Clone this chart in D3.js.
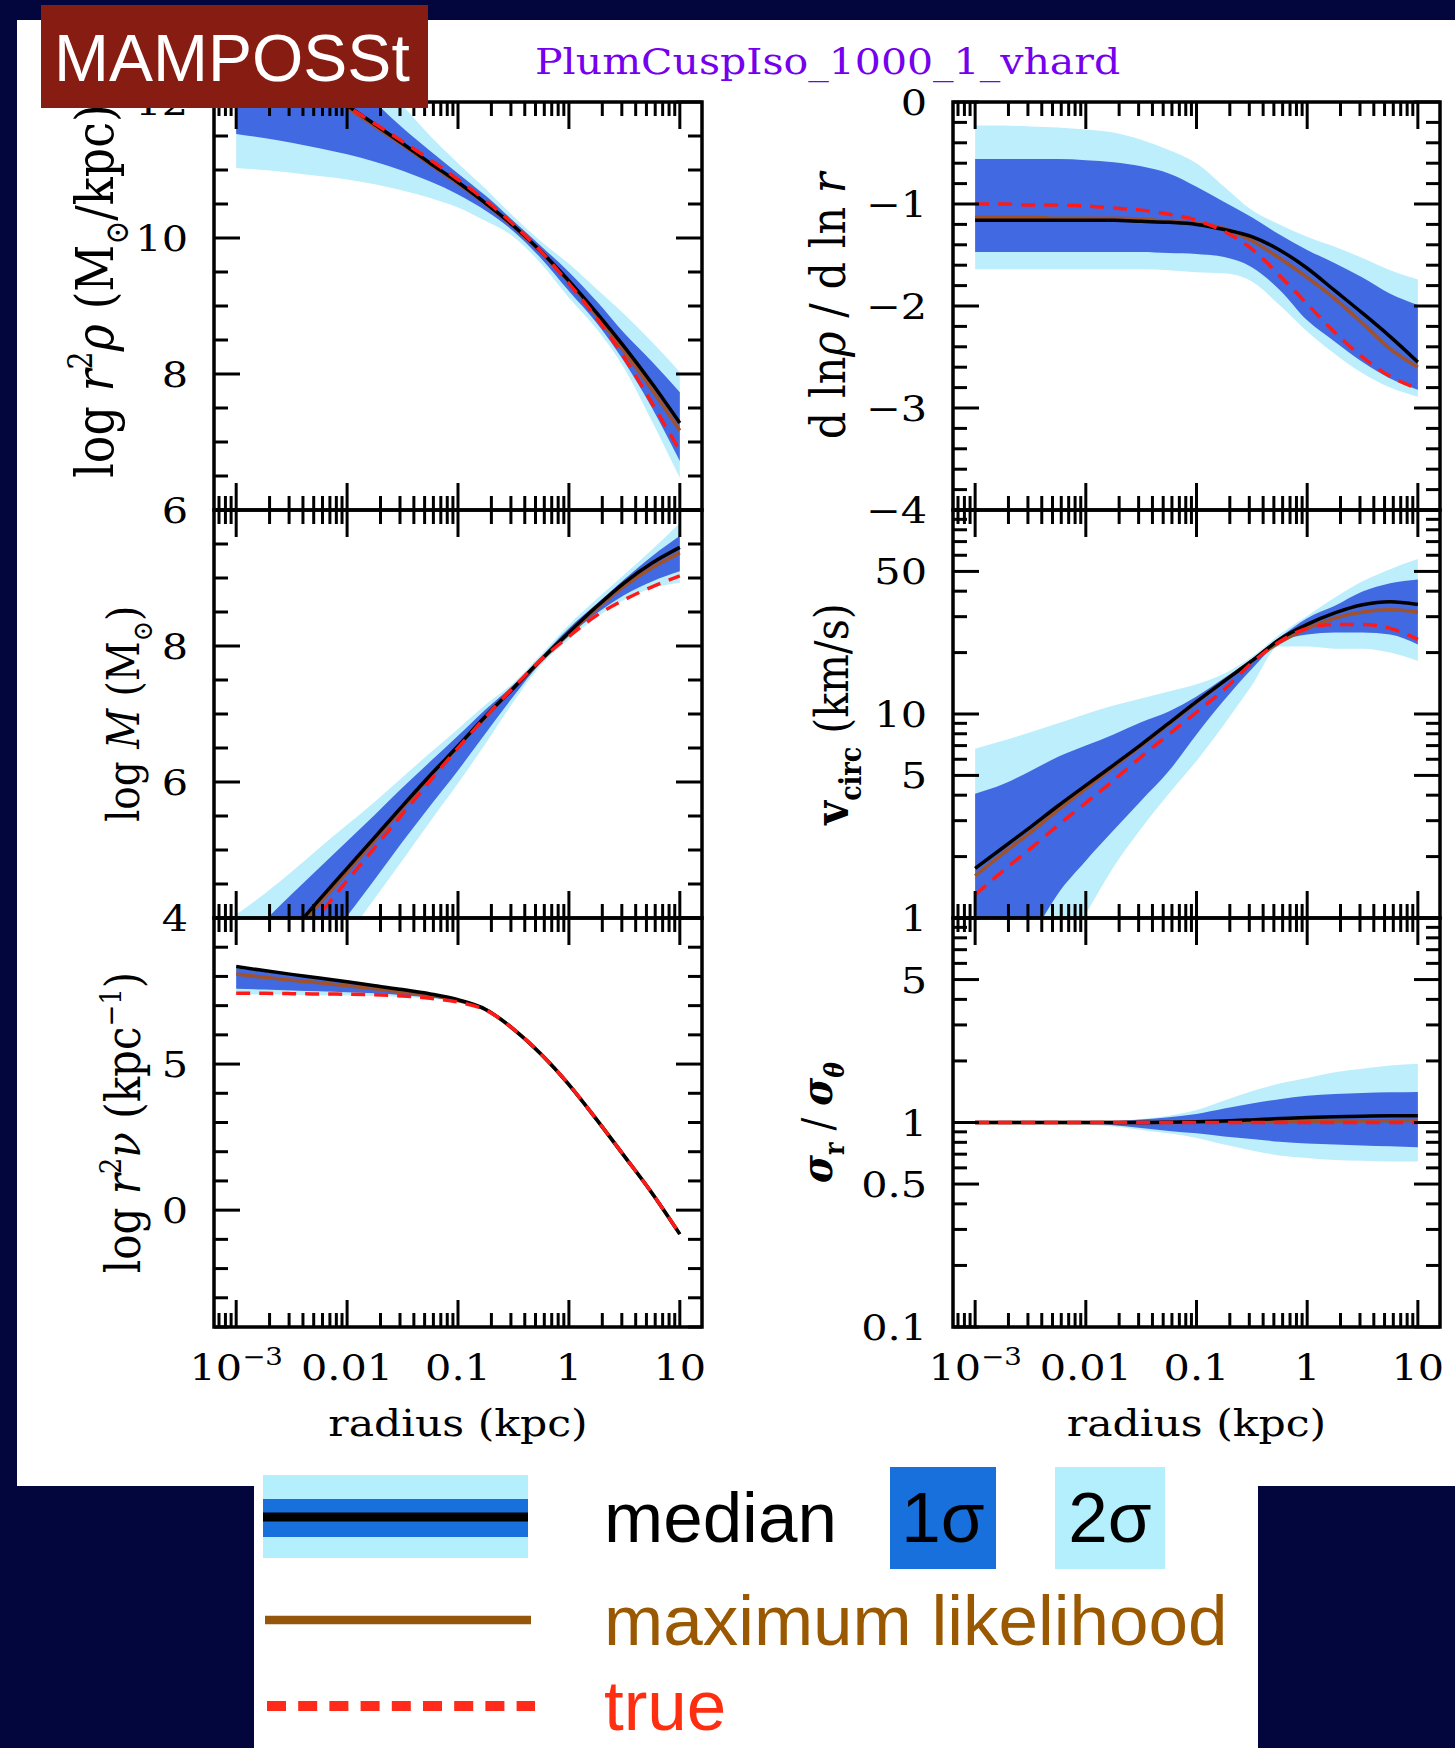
<!DOCTYPE html>
<html>
<head>
<meta charset="utf-8">
<script src="https://cdn.jsdelivr.net/npm/d3@7"></script>
<style>
  body { margin: 0; background: #02063c; }
  svg { display: block; }
</style>
</head>
<body>
<svg id="chart" width="1455" height="1748"></svg>
<script>
// radius grid (kpc)
const radius = [0.001, 0.00178, 0.00316, 0.00562, 0.01, 0.0178, 0.0316, 0.0562, 0.1, 0.178, 0.316, 0.562, 1, 1.78, 3.16, 5.62, 10];

// log r^2 rho
const rhoTrue   = [12.95, 12.7, 12.45, 12.2, 11.94, 11.68, 11.42, 11.15, 10.86, 10.55, 10.2, 9.8, 9.33, 8.82, 8.24, 7.57, 6.87];
const rhoMedian = [13.1, 12.8, 12.5, 12.22, 11.95, 11.67, 11.39, 11.1, 10.82, 10.51, 10.18, 9.8, 9.37, 8.9, 8.4, 7.86, 7.28];
const rhoML     = [13.05, 12.76, 12.47, 12.19, 11.92, 11.64, 11.37, 11.08, 10.8, 10.5, 10.17, 9.79, 9.35, 8.86, 8.33, 7.77, 7.17];
const rho1Hi    = [14.0, 13.6, 13.2, 12.8, 12.4, 12.0, 11.62, 11.28, 10.95, 10.62, 10.25, 9.88, 9.5, 9.07, 8.6, 8.18, 7.73];
const rho1Lo    = [11.53, 11.47, 11.4, 11.32, 11.23, 11.12, 10.99, 10.83, 10.64, 10.4, 10.1, 9.7, 9.22, 8.75, 8.18, 7.5, 6.72];
const rho2Hi    = [14.5, 14.1, 13.7, 13.25, 12.8, 12.35, 11.95, 11.5, 11.1, 10.72, 10.32, 9.95, 9.62, 9.25, 8.88, 8.47, 8.03];
const rho2Lo    = [11.03, 11.0, 10.96, 10.91, 10.86, 10.79, 10.7, 10.59, 10.45, 10.25, 10.02, 9.62, 9.12, 8.66, 8.08, 7.3, 6.47];

// d ln rho / d ln r
const slopeTrue   = [-1.0, -1.0, -1.01, -1.01, -1.02, -1.04, -1.06, -1.1, -1.16, -1.27, -1.44, -1.7, -1.98, -2.26, -2.5, -2.69, -2.81];
const slopeMedian = [-1.16, -1.16, -1.16, -1.16, -1.16, -1.16, -1.17, -1.18, -1.2, -1.25, -1.32, -1.45, -1.63, -1.85, -2.07, -2.3, -2.55];
const slopeML     = [-1.13, -1.13, -1.13, -1.14, -1.14, -1.14, -1.15, -1.17, -1.19, -1.24, -1.36, -1.53, -1.72, -1.93, -2.17, -2.42, -2.6];
const slope1Hi    = [-0.56, -0.56, -0.56, -0.56, -0.57, -0.59, -0.63, -0.7, -0.83, -0.98, -1.13, -1.3, -1.45, -1.58, -1.72, -1.88, -1.99];
const slope1Lo    = [-1.47, -1.47, -1.47, -1.47, -1.47, -1.47, -1.47, -1.48, -1.49, -1.52, -1.62, -1.84, -2.14, -2.35, -2.55, -2.71, -2.82];
const slope2Hi    = [-0.23, -0.23, -0.24, -0.25, -0.27, -0.3, -0.37, -0.47, -0.6, -0.83, -1.06, -1.2, -1.32, -1.42, -1.53, -1.65, -1.74];
const slope2Lo    = [-1.64, -1.64, -1.64, -1.64, -1.64, -1.64, -1.64, -1.65, -1.67, -1.68, -1.76, -1.99, -2.25, -2.47, -2.66, -2.8, -2.89];

// log M
const massTrue   = [2.55, 3.05, 3.55, 4.05, 4.55, 5.04, 5.53, 6.02, 6.5, 6.96, 7.39, 7.8, 8.14, 8.45, 8.68, 8.87, 9.03];
const massMedian = [2.9, 3.35, 3.8, 4.27, 4.73, 5.19, 5.65, 6.1, 6.53, 6.97, 7.38, 7.8, 8.2, 8.58, 8.93, 9.22, 9.45];
const massML     = [2.82, 3.28, 3.74, 4.21, 4.68, 5.15, 5.62, 6.08, 6.52, 6.96, 7.38, 7.79, 8.18, 8.55, 8.88, 9.15, 9.37];
const mass1Hi    = [3.55, 3.95, 4.35, 4.74, 5.13, 5.52, 5.92, 6.3, 6.68, 7.07, 7.43, 7.84, 8.26, 8.62, 8.98, 9.32, 9.62];
const mass1Lo    = [2.05, 2.55, 3.03, 3.54, 4.03, 4.57, 5.12, 5.65, 6.17, 6.72, 7.26, 7.76, 8.15, 8.48, 8.75, 8.95, 9.1];
const mass2Hi    = [4.05, 4.35, 4.68, 5.03, 5.37, 5.71, 6.07, 6.43, 6.78, 7.14, 7.46, 7.88, 8.31, 8.69, 9.05, 9.42, 9.81];
const mass2Lo    = [1.7, 2.2, 2.68, 3.2, 3.73, 4.29, 4.85, 5.42, 5.98, 6.57, 7.18, 7.72, 8.1, 8.42, 8.68, 8.85, 8.93];

// v_circ (km/s)
const vTrue   = [1.3, 1.7, 2.19, 2.85, 3.67, 4.73, 6.17, 7.94, 10.2, 13.2, 17.8, 22.6, 26.3, 27.5, 27.5, 26.3, 23.2];
const vMedian = [1.75, 2.21, 2.79, 3.55, 4.47, 5.62, 7.08, 9.02, 11.5, 14.5, 18.2, 23.2, 27.5, 31.3, 34.3, 35.5, 34.4];
const vML     = [1.61, 2.07, 2.63, 3.39, 4.32, 5.5, 7.0, 8.91, 11.4, 14.5, 18.2, 22.4, 26.3, 29.5, 31.6, 32.4, 31.6];
const v1Hi    = [4.07, 4.52, 5.25, 6.17, 7.0, 7.94, 9.12, 10.3, 12.2, 15.0, 18.6, 23.7, 29.5, 33.9, 39.8, 43.7, 45.7];
const v1Lo    = [0.32, 0.5, 0.79, 1.32, 1.91, 2.69, 3.76, 5.25, 7.94, 11.7, 16.6, 22.4, 24.5, 25.1, 25.1, 24.5, 21.9];
const v2Hi    = [6.76, 7.4, 8.13, 9.0, 10.0, 11.0, 11.9, 12.9, 14.0, 15.8, 19.1, 24.5, 30.2, 37.2, 44.7, 51.3, 57.5];
const v2Lo    = [0.1, 0.18, 0.35, 0.63, 1.05, 1.78, 2.75, 4.07, 5.89, 8.91, 13.8, 21.4, 21.4, 20.9, 20.9, 20.0, 18.2];

// log r^2 nu
const nuTrue   = [7.42, 7.42, 7.41, 7.4, 7.39, 7.37, 7.33, 7.25, 7.12, 6.85, 6.2, 5.34, 4.3, 3.1, 1.85, 0.58, -0.82];
const nuMedian = [8.34, 8.2, 8.07, 7.95, 7.82, 7.68, 7.55, 7.4, 7.2, 6.87, 6.2, 5.34, 4.3, 3.1, 1.85, 0.58, -0.82];
const nuML     = [8.08, 7.97, 7.87, 7.78, 7.68, 7.58, 7.47, 7.35, 7.17, 6.86, 6.2, 5.34, 4.3, 3.1, 1.85, 0.58, -0.82];
const nu1Hi    = [8.28, 8.16, 8.04, 7.92, 7.8, 7.66, 7.53, 7.39, 7.2, 6.87, 6.2, 5.34, 4.3, 3.1, 1.85, 0.58, -0.82];
const nu1Lo    = [7.58, 7.55, 7.52, 7.49, 7.46, 7.42, 7.36, 7.28, 7.15, 6.86, 6.2, 5.34, 4.3, 3.1, 1.85, 0.58, -0.82];
const nu2Hi    = [8.36, 8.22, 8.09, 7.96, 7.83, 7.69, 7.56, 7.41, 7.21, 6.88, 6.2, 5.34, 4.3, 3.1, 1.85, 0.58, -0.82];
const nu2Lo    = [7.38, 7.38, 7.37, 7.36, 7.35, 7.33, 7.3, 7.24, 7.13, 6.85, 6.2, 5.34, 4.3, 3.1, 1.85, 0.58, -0.82];

// sigma_r / sigma_theta
const betaTrue   = [1, 1, 1, 1, 1, 1, 1, 1, 1, 1, 1, 1, 1, 1, 1, 1, 1];
const betaMedian = [1, 1, 1, 1, 1, 1, 1, 1.003, 1.008, 1.017, 1.03, 1.045, 1.058, 1.068, 1.074, 1.078, 1.08];
const betaML     = [1, 1, 1, 1, 1, 1, 1, 1, 1.002, 1.004, 1.006, 1.009, 1.012, 1.015, 1.018, 1.02, 1.022];
const beta1Hi    = [1, 1, 1, 1, 1.003, 1.015, 1.035, 1.06, 1.1, 1.17, 1.24, 1.3, 1.35, 1.38, 1.395, 1.405, 1.41];
const beta1Lo    = [1, 1, 1, 0.998, 0.993, 0.97, 0.94, 0.91, 0.885, 0.855, 0.83, 0.805, 0.79, 0.78, 0.772, 0.765, 0.757];
const beta2Hi    = [1, 1, 1, 1, 1.005, 1.015, 1.04, 1.08, 1.15, 1.28, 1.42, 1.55, 1.65, 1.76, 1.83, 1.9, 1.94];
const beta2Lo    = [1, 1, 0.995, 0.99, 0.975, 0.955, 0.92, 0.885, 0.84, 0.78, 0.73, 0.69, 0.67, 0.655, 0.65, 0.645, 0.645];

// x tick labels
const xTickValues = [0.001, 0.01, 0.1, 1, 10];
const xTickLabels = ["10", "0.01", "0.1", "1", "10"];

const W = 1455, H = 1748;
const COLS = [[214, 702], [953, 1440]];
const ROWS = [[102, 510], [510, 918], [918, 1327]];
const SERIF = "'DejaVu Serif', serif";
const SANS = "'Liberation Sans', Arial, sans-serif";
const LIGHT = "#bdeefc", DARK = "#4169e1", BROWN = "#a0522d", RED = "#ff1a1a";
const STRETCH = 1.15; // the original figure is a little wider than tall

const panels = [
  { col: 0, row: 0, log: false, domain: [6, 12], minor: 0.5, major: [6, 8, 10, 12], labels: [6, 8, 10, 12],
    d: [rho2Lo, rho2Hi, rho1Lo, rho1Hi, rhoMedian, rhoML, rhoTrue], titleX: 113, titleDy: -15, titleSize: 46,
    title: [{ t: "log " }, { t: "r", i: 1 }, { t: "2", sup: 1 }, { t: "ρ", i: 1 }, { t: " (M" }, { t: "⊙", sub: 1 }, { t: "/kpc)" }] },
  { col: 0, row: 1, log: false, domain: [4, 10], minor: 0.5, major: [4, 6, 8, 10], labels: [4, 6, 8],
    d: [mass2Lo, mass2Hi, mass1Lo, mass1Hi, massMedian, massML, massTrue], titleX: 139, titleDy: 0, titleSize: 39,
    title: [{ t: "log " }, { t: "M", i: 1 }, { t: " (M" }, { t: "⊙", sub: 1 }, { t: ")" }] },
  { col: 0, row: 2, log: false, domain: [-4, 10], minor: 1, major: [0, 5, 10], labels: [0, 5],
    d: [nu2Lo, nu2Hi, nu1Lo, nu1Hi, nuMedian, nuML, nuTrue], titleX: 140, titleDy: 0, titleSize: 42,
    title: [{ t: "log " }, { t: "r", i: 1 }, { t: "2", sup: 1 }, { t: "ν", i: 1 }, { t: " (kpc" }, { t: "−1", sup: 1 }, { t: ")" }] },
  { col: 1, row: 0, log: false, domain: [-4, 0], minor: 0.2, major: [-4, -3, -2, -1, 0], labels: [-4, -3, -2, -1, 0],
    d: [slope2Lo, slope2Hi, slope1Lo, slope1Hi, slopeMedian, slopeML, slopeTrue], titleX: 845, titleDy: 0, titleSize: 43,
    title: [{ t: "d ln" }, { t: "ρ", i: 1 }, { t: " / d ln " }, { t: "r", i: 1 }] },
  { col: 1, row: 1, log: true, domain: [1, 100], major: [1, 5, 10, 50, 100], labels: [1, 5, 10, 50],
    d: [v2Lo, v2Hi, v1Lo, v1Hi, vMedian, vML, vTrue], titleX: 848, titleDy: 0, titleSize: 41,
    title: [{ t: "v", b: 1 }, { t: "circ", sub: 1, b: 1 }, { t: " (km/s)" }] },
  { col: 1, row: 2, log: true, domain: [0.1, 10], major: [0.1, 0.5, 1, 5, 10], labels: [0.1, 0.5, 1, 5],
    d: [beta2Lo, beta2Hi, beta1Lo, beta1Hi, betaMedian, betaML, betaTrue], titleX: 832, titleDy: 0, titleSize: 38,
    title: [{ t: "σ", i: 1, b: 1 }, { t: "r", sub: 1, b: 1 }, { t: " / " }, { t: "σ", i: 1, b: 1 }, { t: "θ", sub: 1, b: 1, i: 1 }] }
];

const svg = d3.select("#chart");

// background
svg.append("rect").attr("width", W).attr("height", H).attr("fill", "#02063c");
svg.append("rect").attr("x", 17).attr("y", 20).attr("width", W - 17).attr("height", 1466).attr("fill", "#fff");
svg.append("rect").attr("x", 254).attr("y", 1480).attr("width", 1004).attr("height", H - 1480).attr("fill", "#fff");

function richText(sel, parts, size) {
  const t = sel.append("text").attr("font-size", size).attr("font-family", SERIF);
  let shift = 0;
  parts.forEach(p => {
    const s = t.append("tspan").text(p.t);
    const target = p.sup ? -0.4 * size : p.sub ? 0.28 * size : 0;
    if (target !== shift) { s.attr("dy", target - shift); shift = target; }
    if (p.sup || p.sub) s.attr("font-size", size * 0.62);
    if (p.i) s.attr("font-style", "italic");
    if (p.b) s.attr("font-weight", "bold");
  });
  return t;
}

// horizontal text, widened like the source figure
function wideText(sel, x, y, size, anchor) {
  return sel.append("text")
    .attr("transform", `translate(${x},${y}) scale(${STRETCH},1)`)
    .attr("text-anchor", anchor).attr("font-family", SERIF).attr("font-size", size);
}

const fmt = v => (v < 0 ? "−" + Math.abs(v) : String(v));

panels.forEach((p, k) => {
  const [x0, x1] = COLS[p.col];
  const [y0, y1] = ROWS[p.row];
  const x = d3.scaleLog().domain([10 ** -3.2, 10 ** 1.2]).range([x0, x1]);
  const y = (p.log ? d3.scaleLog() : d3.scaleLinear()).domain(p.domain).range([y1, y0]);
  const g = svg.append("g");

  g.append("clipPath").attr("id", "clip" + k)
    .append("rect").attr("x", x0).attr("y", y0).attr("width", x1 - x0).attr("height", y1 - y0);
  const data = g.append("g").attr("clip-path", `url(#clip${k})`);

  const [lo2, hi2, lo1, hi1, med, ml, tru] = p.d;
  const band = (lo, hi) => d3.area()
    .x((d, i) => x(radius[i])).y0((d, i) => y(lo[i])).y1((d, i) => y(hi[i]))
    .curve(d3.curveMonotoneX)(radius);
  const line = d3.line().x((d, i) => x(radius[i])).y(d => y(d)).curve(d3.curveMonotoneX);

  data.append("path").attr("d", band(lo2, hi2)).attr("fill", LIGHT);
  data.append("path").attr("d", band(lo1, hi1)).attr("fill", DARK);
  data.append("path").attr("d", line(ml)).attr("fill", "none").attr("stroke", BROWN).attr("stroke-width", 3.5);
  data.append("path").attr("d", line(med)).attr("fill", "none").attr("stroke", "#000").attr("stroke-width", 3.5);
  data.append("path").attr("d", line(tru)).attr("fill", "none").attr("stroke", RED)
    .attr("stroke-width", 3.5).attr("stroke-dasharray", "14,9");

  // ticks on all four sides
  const ticks = g.append("g").attr("stroke", "#000").attr("stroke-width", 3);
  x.ticks().forEach(v => {
    const len = xTickValues.includes(+v.toPrecision(3)) ? 27 : 14;
    const px = x(v);
    ticks.append("line").attr("x1", px).attr("x2", px).attr("y1", y0).attr("y2", y0 + len);
    ticks.append("line").attr("x1", px).attr("x2", px).attr("y1", y1).attr("y2", y1 - len);
  });
  const yt = p.log ? y.ticks() : d3.range(p.domain[0], p.domain[1] + 1e-9, p.minor);
  yt.forEach(v => {
    const major = p.major.some(m => Math.abs(m - v) < 1e-6);
    const len = major ? 26 : 14;
    const py = y(v);
    ticks.append("line").attr("x1", x0).attr("x2", x0 + len).attr("y1", py).attr("y2", py);
    ticks.append("line").attr("x1", x1).attr("x2", x1 - len).attr("y1", py).attr("y2", py);
  });

  // frame
  g.append("rect").attr("x", x0).attr("y", y0).attr("width", x1 - x0).attr("height", y1 - y0)
    .attr("fill", "none").attr("stroke", "#000").attr("stroke-width", 3.5);

  // y tick labels
  p.labels.forEach(v => wideText(g, x0 - 26, y(v) + 13, 36, "end").text(fmt(v)));

  // x tick labels on bottom row
  if (p.row === 2) {
    xTickValues.forEach((v, i) => {
      const t = wideText(g, x(v), y1 + 53, 36, "middle");
      t.append("tspan").text(xTickLabels[i]);
      if (i === 0) t.append("tspan").attr("dy", -15).attr("font-size", 24).text("−3");
    });
    wideText(g, (x0 + x1) / 2, y1 + 109, 37, "middle").text("radius (kpc)");
  }

  // y title
  const tg = g.append("g")
    .attr("transform", `translate(${p.titleX},${(y0 + y1) / 2 + p.titleDy}) rotate(-90) scale(1,${STRETCH})`);
  richText(tg, p.title, p.titleSize).attr("text-anchor", "middle");
});

// header
svg.append("rect").attr("x", 41).attr("y", 5).attr("width", 387).attr("height", 103).attr("fill", "#871d12");
svg.append("text").attr("x", 54).attr("y", 81).attr("fill", "#fff")
  .attr("font-family", SANS).attr("font-size", 66).text("MAMPOSSt");
svg.append("text").attr("transform", "translate(535,74) scale(1.14,1)").attr("fill", "#7400ee")
  .attr("font-family", SERIF).attr("font-size", 36).text("PlumCuspIso_1000_1_vhard");

// legend
const leg = svg.append("g");
leg.append("rect").attr("x", 263).attr("y", 1475).attr("width", 265).attr("height", 83).attr("fill", "#b3effc");
leg.append("rect").attr("x", 263).attr("y", 1499).attr("width", 265).attr("height", 38).attr("fill", "#1770dc");
leg.append("line").attr("x1", 263).attr("x2", 528).attr("y1", 1517).attr("y2", 1517)
  .attr("stroke", "#000").attr("stroke-width", 9);
leg.append("rect").attr("x", 890).attr("y", 1467).attr("width", 106).attr("height", 102).attr("fill", "#1770dc");
leg.append("rect").attr("x", 1055).attr("y", 1467).attr("width", 110).attr("height", 102).attr("fill", "#b3effc");
leg.append("line").attr("x1", 265).attr("x2", 531).attr("y1", 1620).attr("y2", 1620)
  .attr("stroke", "#95550a").attr("stroke-width", 8.5);
leg.append("line").attr("x1", 267).attr("x2", 535).attr("y1", 1706).attr("y2", 1706)
  .attr("stroke", "#ff2a1a").attr("stroke-width", 10).attr("stroke-dasharray", "19,12.2");

const legText = (txt, x, y, color, anchor) => leg.append("text").attr("x", x).attr("y", y)
  .attr("fill", color).attr("font-family", SANS).attr("font-size", 71)
  .attr("text-anchor", anchor || "start").text(txt);
legText("median", 604, 1542, "#000");
legText("1σ", 943, 1542, "#000", "middle");
legText("2σ", 1110, 1542, "#000", "middle");
legText("maximum likelihood", 604, 1645, "#9a5800");
legText("true", 604, 1730, "#ff2e10");
</script>
</body>
</html>
